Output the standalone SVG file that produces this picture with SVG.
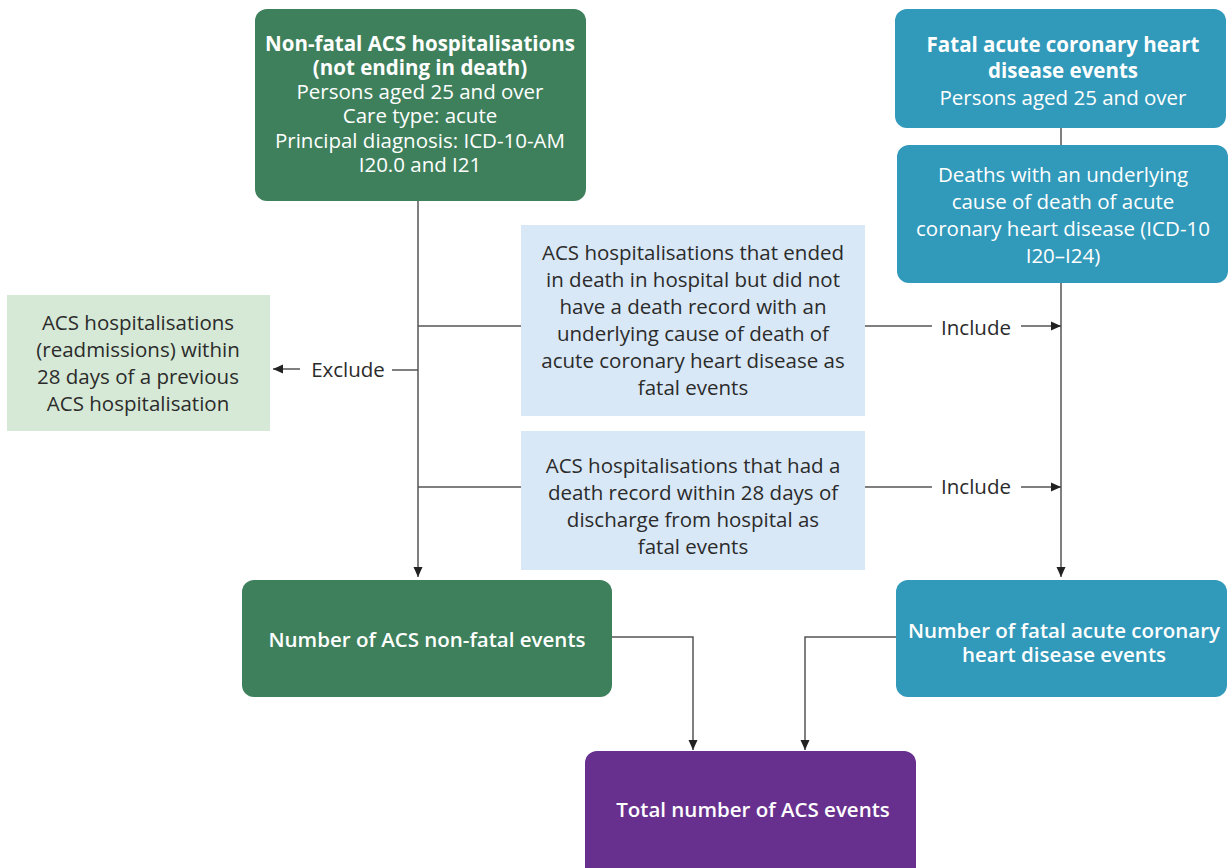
<svg xmlns="http://www.w3.org/2000/svg" width="1229" height="868" viewBox="0 0 1229 868">
<defs>
<marker id="arr" viewBox="0 0 10 10" refX="10" refY="5" markerWidth="10" markerHeight="10" markerUnits="userSpaceOnUse" orient="auto">
<path d="M0,0.5 L10,5 L0,9.5 z" fill="#222"/>
</marker>
<style>
text{font-family:"Open Sans","Noto Sans","Liberation Sans",sans-serif;font-size:20.5px;text-anchor:middle}
.w{fill:#fff}
.b{font-weight:700}
.s{font-weight:600}
.d{fill:#2b2b2b}
.dg{fill:#3e7f5c}
.tl{fill:#3199ba}
.pu{fill:#68308e}
.lg{fill:#d6e9d6}
.lb{fill:#d9e8f6}
.c{fill:none;stroke:#555;stroke-width:1.5}
</style>
</defs>
<rect width="1229" height="868" fill="#fff"/>
<g id="connectors">
<path class="c" d="M418,201 V577" marker-end="url(#arr)"/>
<path class="c" d="M418,326 H521"/>
<path class="c" d="M418,487 H521"/>
<path class="c" d="M418,370 H392"/>
<path class="c" d="M300,369 H273" marker-end="url(#arr)"/>
<path class="c" d="M1061,128 V145"/>
<path class="c" d="M1061,283 V577" marker-end="url(#arr)"/>
<path class="c" d="M865,326 H932"/>
<path class="c" d="M1021,326 H1061" marker-end="url(#arr)"/>
<path class="c" d="M865,487 H932"/>
<path class="c" d="M1021,487 H1061" marker-end="url(#arr)"/>
<path class="c" d="M612,637 H693 V750" marker-end="url(#arr)"/>
<path class="c" d="M896,637 H805 V750" marker-end="url(#arr)"/>
<text class="d" x="348" y="377">Exclude</text>
<text class="d" x="976" y="335">Include</text>
<text class="d" x="976" y="494">Include</text>
</g>
<g id="nonfatal-hosp">
<rect class="dg" x="255" y="9" width="331" height="192" rx="12"/>
<text class="w b" x="420" y="51">Non-fatal ACS hospitalisations</text>
<text class="w b" x="420" y="75">(not ending in death)</text>
<text class="w" x="420" y="99">Persons aged 25 and over</text>
<text class="w" x="420" y="123">Care type: acute</text>
<text class="w" x="420" y="148">Principal diagnosis: ICD-10-AM</text>
<text class="w" x="420" y="172">I20.0 and I21</text>
</g>
<g id="fatal-events">
<rect class="tl" x="895" y="9" width="331" height="119" rx="12"/>
<text class="w b" x="1063" y="52">Fatal acute coronary heart</text>
<text class="w b" x="1063" y="78">disease events</text>
<text class="w" x="1063" y="105">Persons aged 25 and over</text>
</g>
<g id="deaths">
<rect class="tl" x="897" y="145" width="331" height="138" rx="12"/>
<text class="w" x="1063" y="182">Deaths with an underlying</text>
<text class="w" x="1063" y="209">cause of death of acute</text>
<text class="w" x="1063" y="236">coronary heart disease (ICD-10</text>
<text class="w" x="1063" y="263">I20–I24)</text>
</g>
<g id="readmissions">
<rect class="lg" x="7" y="295" width="263" height="136"/>
<text class="d" x="138" y="330">ACS hospitalisations</text>
<text class="d" x="138" y="357">(readmissions) within</text>
<text class="d" x="138" y="384">28 days of a previous</text>
<text class="d" x="138" y="411">ACS hospitalisation</text>
</g>
<g id="ended-in-death">
<rect class="lb" x="521" y="225" width="344" height="191"/>
<text class="d" x="693" y="260">ACS hospitalisations that ended</text>
<text class="d" x="693" y="287">in death in hospital but did not</text>
<text class="d" x="693" y="314">have a death record with an</text>
<text class="d" x="693" y="341">underlying cause of death of</text>
<text class="d" x="693" y="368">acute coronary heart disease as</text>
<text class="d" x="693" y="395">fatal events</text>
</g>
<g id="death-record-28">
<rect class="lb" x="521" y="431" width="344" height="139"/>
<text class="d" x="693" y="473">ACS hospitalisations that had a</text>
<text class="d" x="693" y="500">death record within 28 days of</text>
<text class="d" x="693" y="527">discharge from hospital as</text>
<text class="d" x="693" y="554">fatal events</text>
</g>
<g id="nonfatal-count">
<rect class="dg" x="242" y="580" width="370" height="117" rx="12"/>
<text class="w s" x="427" y="647">Number of ACS non-fatal events</text>
</g>
<g id="fatal-count">
<rect class="tl" x="896" y="580" width="331" height="117" rx="12"/>
<text class="w s" x="1064" y="638">Number of fatal acute coronary</text>
<text class="w s" x="1064" y="662">heart disease events</text>
</g>
<g id="total">
<rect class="pu" x="585" y="751" width="331" height="130" rx="12"/>
<text class="w s" x="753" y="817">Total number of ACS events</text>
</g>
</svg>
